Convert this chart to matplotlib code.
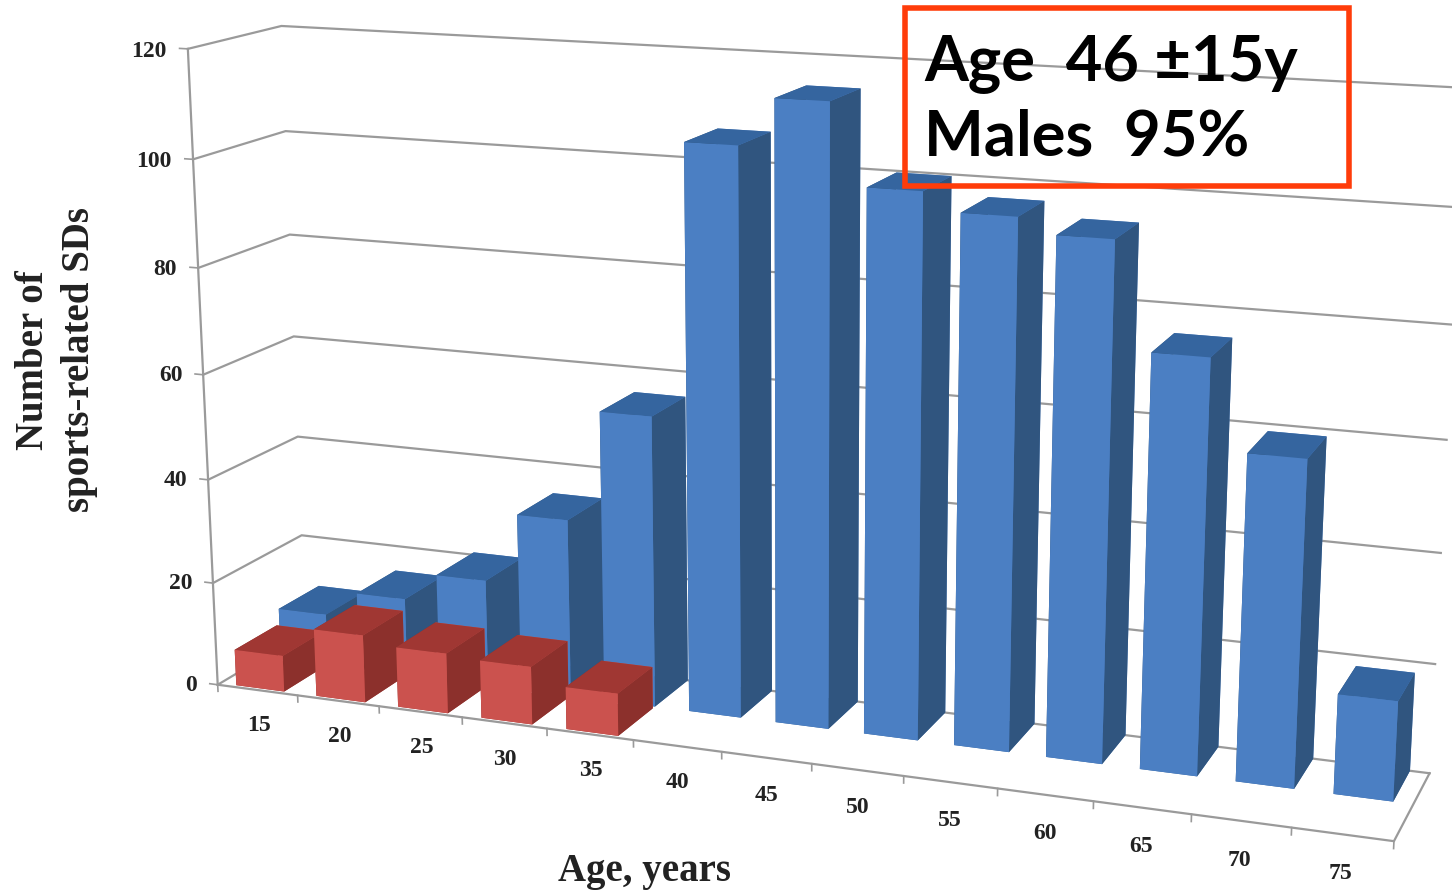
import numpy as np
import matplotlib
matplotlib.use('Agg')
import matplotlib.pyplot as plt
from matplotlib.patches import Rectangle
from mpl_toolkits.mplot3d import Axes3D, proj3d

ages = [15, 20, 25, 30, 35, 40, 45, 50, 55, 60, 65, 70, 75]
males = [10, 15, 20.5, 34, 55.2, 105.6, 114.3, 99.7, 96.4, 93.7, 74.7, 58.7, 18]
females = [7, 13, 11.5, 11, 8]
z_ticks = [0, 20, 40, 60, 80, 100, 120]

BLUE = ['#35659f', '#35659f', '#4b7fc3', '#4b7fc3', '#30557f', '#30557f']
RED = ['#a03733', '#a03733', '#cb524e', '#cb524e', '#8c302c', '#8c302c']
GREY = '#9a9a9a'
SERIF = 'Liberation Serif'

W, D, H = 1255, 190, 680
A = 1398  # axes size, px
FW, FH = 1452, 890

fig = plt.figure(figsize=(FW / 100, FH / 100), dpi=100)
left = (800 - 0.5135 * A) / FW
bottom = (FH - (406 + 0.5135 * A)) / FH
ax = fig.add_axes([left, bottom, A / FW, A / FH], projection='3d')
ax.computed_zorder = False
ax.set_proj_type('persp', focal_length=0.4248)
ax.view_init(elev=14.2, azim=-69.35)
ax.set_box_aspect((W, D, H))


def draw_bars(values, y0, colors, z0):
    for i, v in enumerate(values):
        ax.bar3d(i + 0.2, y0, 0, 0.6, 0.47, v, color=colors, shade=False,
                 linewidth=0, zorder=z0 + i)


def label(x, y, z, s, ha):
    # text goes on the 2d layer at the projected position of its 3d anchor
    xp, yp, _ = proj3d.proj_transform(x, y, z, ax.get_proj())
    ax.text2D(xp, yp, s, transform=ax.transData, family=SERIF, weight='bold',
              fontsize=17, ha=ha, va='center', color='#222222', zorder=50)


n = len(ages)
# walls
for z in z_ticks:
    ax.plot([0, 0, n], [0, 1, 1], [z, z, z], color=GREY, lw=1.6, zorder=1)
    ax.plot([-0.1, 0], [0, 0], [z, z], color=GREY, lw=1.2, zorder=1)
ax.plot([0, 0], [0, 0], [0, 120], color=GREY, lw=1.6, zorder=1)
ax.plot([0, n, n], [0, 0, 1], [0, 0, 0], color=GREY, lw=1.6, zorder=1)

# floor ticks
for i in range(n + 1):
    ax.plot([i, i], [0, 0], [0, -1.3], color=GREY, lw=1.2, zorder=1)

draw_bars(males, 0.53, BLUE, 10)
draw_bars(females, 0.03, RED, 30)

ax.set_xticks([])
ax.set_yticks([])
ax.set_zticks([])
ax.set_xlim(0, n, view_margin=0)
ax.set_ylim(0, 1, view_margin=0)
ax.set_zlim(0, 120, view_margin=0)
ax.set_axis_off()

for z in z_ticks:
    label(-0.26, 0, z - 0.6, str(z), 'right')
for i, a in enumerate(ages):
    label(i + 0.5, 0, -7, str(a), 'center')

fig.text(56.5 / FW, 1 - 360 / FH, 'Number of\nsports-related SDs', family=SERIF,
         weight='bold', fontsize=28, rotation=90, ha='center', va='center',
         linespacing=1.3, color='#222222')
fig.text(645 / FW, 1 - 871 / FH, 'Age, years', family=SERIF, weight='bold',
         fontsize=28, ha='center', va='center', color='#222222')

fig.add_artist(Rectangle((905 / FW, 1 - 186 / FH), 444 / FW, 178 / FH, fill=False,
                         edgecolor='#ff3c0a', linewidth=4,
                         transform=fig.transFigure))
fig.text(924 / FW, 1 - 80 / FH, 'Age  46 \u00b115y', family='Lato', weight='bold',
         fontsize=45.5, ha='left', va='baseline', color='black')
fig.text(924 / FW, 1 - 156 / FH, 'Males  95%', family='Lato', weight='bold',
         fontsize=45.5, ha='left', va='baseline', color='black')

fig.savefig('out.png', dpi=100, facecolor='white')
